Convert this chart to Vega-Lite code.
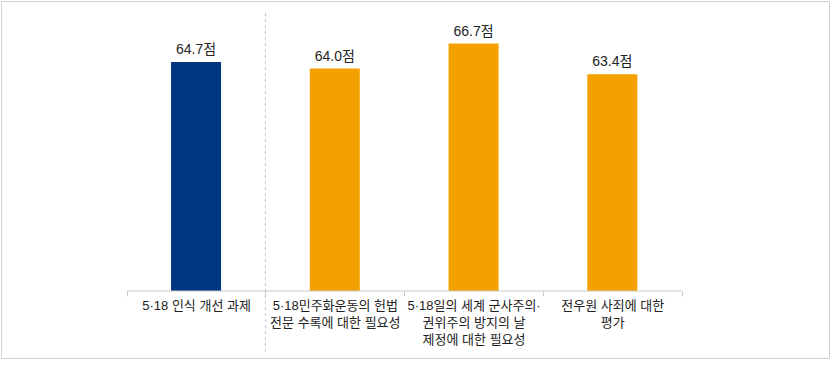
{
  "$schema": "https://vega.github.io/schema/vega-lite/v6.json",
  "autosize": {"type": "none"},
  "padding": {"left": 1, "top": 1, "right": 1, "bottom": 12},
  "width": 828,
  "height": 357,
  "background": "#ffffff",
  "config": {
    "view": {"stroke": "#d0d0d0", "strokeWidth": 1},
    "font": "Liberation Sans, Noto Sans CJK KR"
  },
  "data": {
    "values": [
      {"category": "5·18 인식 개선 과제", "value": 64.7, "group": "인식"},
      {"category": "5·18민주화운동의 헌법\n전문 수록에 대한 필요성", "value": 64.0, "group": "세부"},
      {"category": "5·18일의 세계 군사주의·\n권위주의 방지의 날\n제정에 대한 필요성", "value": 66.7, "group": "세부"},
      {"category": "전우원 사죄에 대한\n평가", "value": 63.4, "group": "세부"}
    ]
  },
  "encoding": {
    "x": {
      "field": "category",
      "type": "nominal",
      "sort": null,
      "scale": {"paddingInner": 0, "paddingOuter": 0.9838, "align": 0.4604},
      "axis": {
        "title": null,
        "orient": "bottom",
        "offset": -67,
        "domain": false,
        "tickBand": "extent",
        "tickSize": 5,
        "tickColor": "#c8c8c8",
        "labelAngle": 0,
        "labelFont": "Liberation Sans, Noto Sans CJK KR",
        "labelFontSize": 13,
        "labelColor": "#222222",
        "labelLineHeight": 17,
        "labelPadding": 3,
        "labelBaseline": "top",
        "labelOverlap": false,
        "labelBound": false,
        "labelExpr": "split(datum.label, '\\n')"
      }
    }
  },
  "layer": [
    {
      "mark": {"type": "bar", "size": 50},
      "encoding": {
        "y": {"field": "value", "type": "quantitative", "scale": {"domain": [32.77, 71.295], "zero": false, "nice": false}, "axis": null},
        "y2": {"datum": 40},
        "color": {"field": "group", "type": "nominal", "scale": {"domain": ["인식", "세부"], "range": ["#003682", "#F4A100"]}, "legend": null}
      }
    },
    {
      "transform": [{"calculate": "format(datum.value, '.1f') + '점'", "as": "label"}],
      "mark": {"type": "text", "baseline": "alphabetic", "dy": -8, "fontSize": 14, "color": "#222222", "font": "Liberation Sans, Noto Sans CJK KR"},
      "encoding": {
        "y": {"field": "value", "type": "quantitative"},
        "text": {"field": "label"}
      }
    },
    {
      "data": {"values": [{}]},
      "mark": {"type": "rule", "color": "#c8c8c8", "strokeDash": [3, 3], "strokeWidth": 1},
      "encoding": {
        "x": {"datum": "5·18민주화운동의 헌법\n전문 수록에 대한 필요성", "bandPosition": 0},
        "y": {"datum": 70},
        "y2": {"datum": 33.42}
      }
    },
    {
      "data": {"values": [{}]},
      "mark": {"type": "rule", "color": "#c8c8c8", "strokeWidth": 1},
      "encoding": {
        "x": {"datum": "5·18 인식 개선 과제", "bandPosition": 0},
        "x2": {"datum": "전우원 사죄에 대한\n평가", "bandPosition": 1},
        "y": {"datum": 40}
      }
    }
  ]
}
